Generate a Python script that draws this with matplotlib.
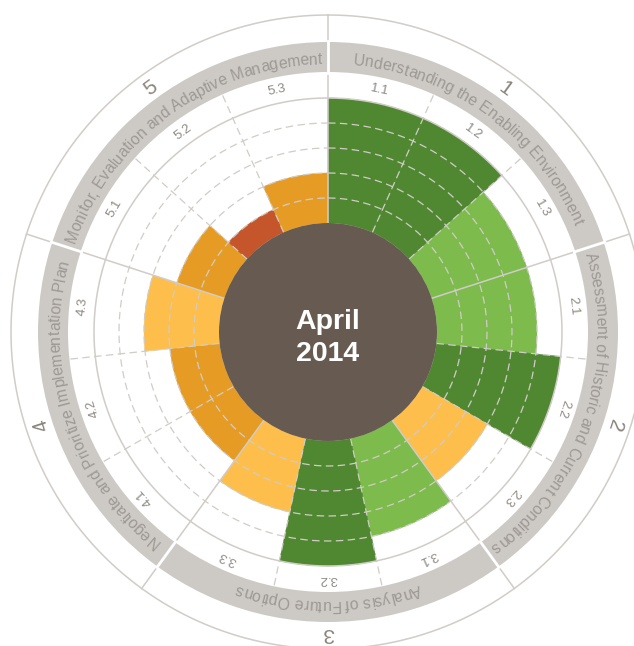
import numpy as np
import matplotlib
matplotlib.use('Agg')
import matplotlib.pyplot as plt
from matplotlib.font_manager import FontProperties, findfont
from matplotlib.ft2font import FT2Font

# segment ratings (0-5), clockwise from the top
segments = ['1.1', '1.2', '1.3', '2.1', '2.2', '2.3', '3.1', '3.2', '3.3',
            '4.1', '4.2', '4.3', '5.1', '5.2', '5.3']
levels = [5, 5, 4, 4, 5, 3, 4, 5, 3, 2, 2, 3, 2, 1, 2]
sections = ['1', '2', '3', '4', '5']
section_titles = ['Understanding the Enabling Environment',
                  'Assessment of Historic and Current Conditions',
                  'Analysis of Future Options',
                  'Negotiate and Prioritize Implementation Plan',
                  'Monitor, Evaluation and Adaptive Management']
center_label = 'April\n2014'

level_colors = {1: '#C5552B', 2: '#E69C24', 3: '#FDBE4C', 4: '#7CBB4C', 5: '#508832'}
line_col = '#D0CCC8'
font = 'Liberation Sans'

# geometry in pixels (1 data unit = 1 px)
W, H = 634, 646
CX, CY = 328, 332
R_IN, RING = 109, 25
R_LAB, BAND_IN, BAND_OUT, R_OUT, RMAX = 234, 260, 290, 317, 320

fig = plt.figure(figsize=(W / 100, H / 100), dpi=100)
ax = fig.add_axes([(CX - RMAX) / W, (H - CY - RMAX) / H, 2 * RMAX / W, 2 * RMAX / H],
                  projection='polar')
ax.set_theta_zero_location('N')
ax.set_theta_direction(-1)
ax.set_rlim(0, RMAX)
ax.axis('off')

n = len(segments)
step = 2 * np.pi / n
theta = np.arange(n) * step + step / 2
cols = [level_colors[v] for v in levels]

# outer grey band
ax.bar(0, BAND_OUT - BAND_IN, width=2 * np.pi, bottom=BAND_IN, color='#CDCAC6',
       edgecolor='none', zorder=1)

# rating bars
ax.bar(theta, np.array(levels) * RING, width=step, bottom=R_IN, color=cols,
       edgecolor=cols, linewidth=0.3, zorder=2)

# dashed rings
th = np.linspace(0, 2 * np.pi, 721)
for k in range(1, 5):
    ax.plot(th, np.full_like(th, R_IN + k * RING), color=line_col, lw=0.9,
            ls=(0, (6, 3.5)), zorder=3)

# solid rings
for r in [R_LAB, R_OUT]:
    ax.plot(th, np.full_like(th, r), color=line_col, lw=1.1, zorder=3)

# radial lines
for k in range(n):
    a = k * step
    if k % 3 == 0:
        ax.plot([a, a], [R_IN, R_OUT], color=line_col, lw=1.1, zorder=3)
        ax.plot([a, a], [BAND_IN - 1, BAND_OUT + 1], color='white', lw=2, zorder=3.5)
    else:
        ax.plot([a, a], [R_IN, BAND_IN], color=line_col, lw=0.9,
                ls=(0, (6, 3.5)), zorder=3)

# centre disc
ax.bar(0, R_IN, width=2 * np.pi, bottom=0, color='#675B51', edgecolor='none', zorder=4)
ax.text(np.pi, 6, center_label, ha='center', va='center', color='white',
        fontsize=20.5, fontweight='bold', family=font, linespacing=1.3, zorder=5)

# segment labels
for a, lab in zip(theta, segments):
    ax.text(a, 247, lab, ha='center', va='center', rotation=-np.degrees(a),
            rotation_mode='anchor', fontsize=9.5, color='#8E8984', family=font, zorder=5)

# section numbers
for k, s in enumerate(sections):
    a = np.radians(k * 72 + 36)
    ax.text(a, 301, s, ha='center', va='center', rotation=-np.degrees(a),
            rotation_mode='anchor', fontsize=15, color='#8A847E', family=font, zorder=5)

# curved section titles, placed letter by letter using glyph metrics
title_size = 11.3
fp = FontProperties(family=font, size=title_size)
ft = FT2Font(findfont(fp))
ft.set_size(title_size, 100)


def glyph_metrics(text):
    out = []
    prev = None
    for ch in text:
        g = ft.load_char(ord(ch))
        idx = ft.get_char_index(ord(ch))
        kern = ft.get_kerning(prev, idx, 0) / 64 if prev is not None else 0
        ink_mid = g.horiBearingX / 64 + g.width / 128
        out.append((kern, g.linearHoriAdvance / 65536, ink_mid))
        prev = idx
    return out


def arc_text(text, center_deg, r):
    m = glyph_metrics(text)
    total = sum(k + a for k, a, _ in m)
    start = np.radians(center_deg) - total / 2 / r
    x = 0
    for ch, (k, a, mid) in zip(text, m):
        x += k
        if ch != ' ':
            ang = start + (x + mid) / r
            ax.text(ang, r, ch, fontproperties=fp, color='#9D9893',
                    rotation=-np.degrees(ang), rotation_mode='anchor',
                    ha='center', va='baseline', zorder=5)
        x += a


for k, title in enumerate(section_titles):
    arc_text(title, k * 72 + 36, 268)

fig.savefig('out.png', dpi=100)
